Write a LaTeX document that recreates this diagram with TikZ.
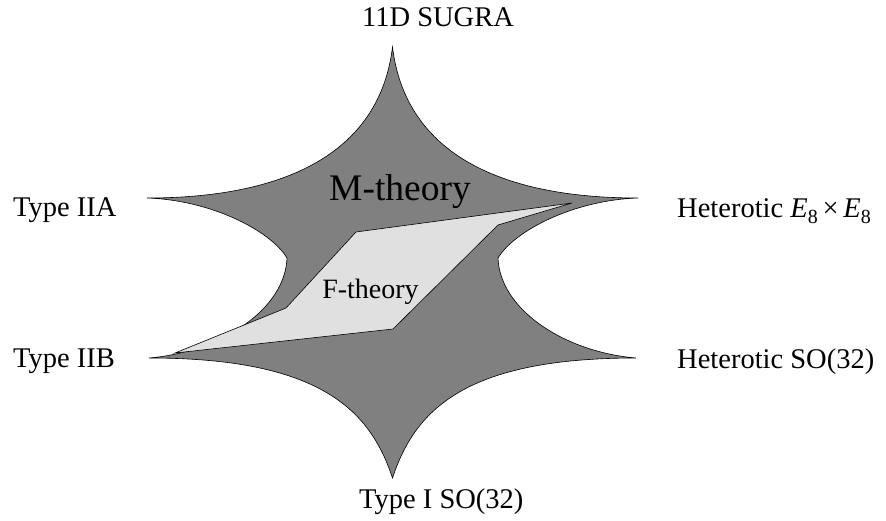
\documentclass[tikz,border=0pt]{standalone}
\usepackage{fontspec}
\setmainfont{Liberation Serif}
\begin{document}
\begin{tikzpicture}[x=1pt,y=-1pt,
  lbl/.style={anchor=base west,inner sep=0pt,font=\fontsize{28.5}{30}\selectfont},
  star/.style={fill=black!50,draw=black,line width=0.6pt,line join=miter},
  fregion/.style={fill=black!12,draw=black,line width=0.6pt,line join=miter}]
\useasboundingbox (0,0) rectangle (886,520);
% star-shaped moduli space
\coordinate (T) at (392.5,47);
\coordinate (UR) at (638,198);
\coordinate (IR) at (498,258);
\coordinate (LR) at (636,358);
\coordinate (B) at (392.5,478);
\coordinate (LL) at (149,358);
\coordinate (IL) at (287,258);
\coordinate (UL) at (147,198);
\path[star] (T) .. controls (405,150) and (495,198) .. (UR)
  .. controls (575,200) and (515,230) .. (IR)
  .. controls (500,310) and (565,352) .. (LR)
  .. controls (465,358) and (415,410) .. (B)
  .. controls (370,410) and (320,358) .. (LL)
  .. controls (220,352) and (285,310) .. (IL)
  .. controls (270,230) and (210,200) .. (UL)
  .. controls (290,198) and (380,150) .. (T) -- cycle;
% F-theory region
\path[fregion] (175,353) -- (286,308) -- (356,232) -- (572,203) -- (498,225) -- (393,329) -- cycle;
% inner labels
\node[anchor=base,inner sep=0pt,font=\fontsize{37.5}{40}\selectfont] (mth) at (400,200) {M-theory};
\node[anchor=base,inner sep=0pt,font=\fontsize{28}{30}\selectfont] (fth) at (370.5,298) {F-theory};
% outer labels
\node[lbl] (sugra) at (362,26) {11D SUGRA};
\node[lbl] (iia) at (13,216) {Type IIA};
\node[lbl] (e8) at (677,217) {Heterotic \textit{E}\raisebox{-0.22em}{\fontsize{20}{20}\selectfont 8}\,×\,\textit{E}\raisebox{-0.22em}{\fontsize{20}{20}\selectfont 8}};
\node[lbl] (iib) at (13,367) {Type IIB};
\node[lbl] (so) at (677,368) {Heterotic SO(32)};
\node[lbl] (ti) at (359,508) {Type I SO(32)};
\end{tikzpicture}
\end{document}
